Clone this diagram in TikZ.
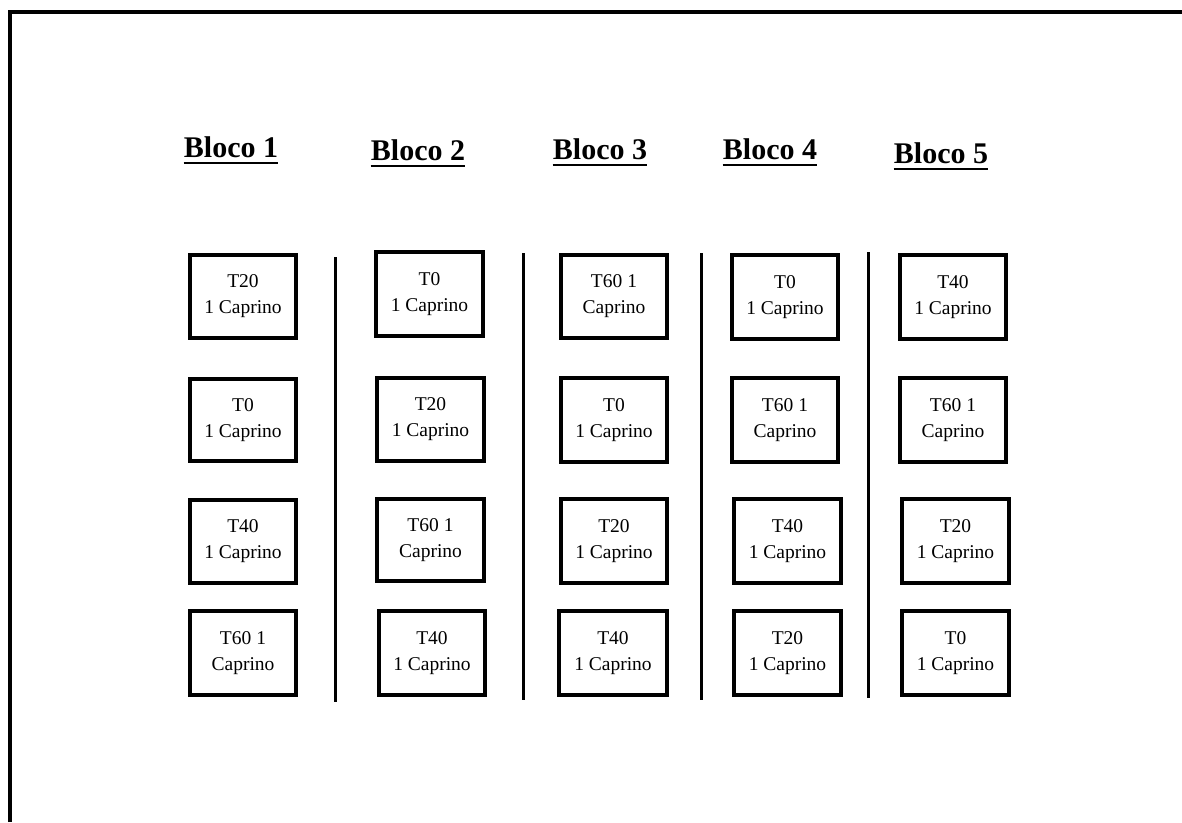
\documentclass[tikz,border=0pt]{standalone}
\usepackage{fontspec}
\setmainfont{Liberation Serif}
\begin{document}
\begin{tikzpicture}[x=1pt,y=-1pt,
  cellbox/.style={draw,line width=4pt,align=center,inner sep=0pt,
    font=\fontsize{19.5}{26}\selectfont},
  head/.style={font=\fontsize{30}{32}\bfseries\selectfont,inner sep=0pt,anchor=base},
  sepline/.style={line width=3pt},
  frameline/.style={line width=4pt}]
\useasboundingbox (0,0) rectangle (1182,822);
\fill[white] (0,0) rectangle (1182,822);
\draw[frameline] (10,822) -- (10,11.5) -- (1182,11.5);
% headings
\foreach \n/\x/\y in {1/231/157,2/418/160,3/600/159,4/770/159,5/941/163}{
  \node[head] (h\n) at (\x,\y) {Bloco \n};
  \draw[line width=2pt] ([yshift=-6]h\n.base west) -- ([yshift=-6]h\n.base east);
}
% cells: name / x1 / y1 / x2 / y2 / text
\foreach \nm/\xa/\ya/\xb/\yb/\t in {
  a1/188/253/298/340/{T20\\1 Caprino},
  a2/188/377/298/463/{T0\\1 Caprino},
  a3/188/498/298/585/{T40\\1 Caprino},
  a4/188/609/298/697/{T60 1\\Caprino},
  b1/374/250/485/338/{T0\\1 Caprino},
  b2/375/376/486/463/{T20\\1 Caprino},
  b3/375/497/486/583/{T60 1\\Caprino},
  b4/377/609/487/697/{T40\\1 Caprino},
  c1/559/253/669/340/{T60 1\\Caprino},
  c2/559/376/669/464/{T0\\1 Caprino},
  c3/559/497/669/585/{T20\\1 Caprino},
  c4/557/609/669/697/{T40\\1 Caprino},
  d1/730/253/840/341/{T0\\1 Caprino},
  d2/730/376/840/464/{T60 1\\Caprino},
  d3/732/497/843/585/{T40\\1 Caprino},
  d4/732/609/843/697/{T20\\1 Caprino},
  e1/898/253/1008/341/{T40\\1 Caprino},
  e2/898/376/1008/464/{T60 1\\Caprino},
  e3/900/497/1011/585/{T20\\1 Caprino},
  e4/900/609/1011/697/{T0\\1 Caprino}}{
  \pgfmathsetmacro{\cx}{(\xa+\xb)/2}
  \pgfmathsetmacro{\cy}{(\ya+\yb)/2}
  \pgfmathsetmacro{\w}{\xb-\xa-4}
  \pgfmathsetmacro{\h}{\yb-\ya-4}
  \node[cellbox,minimum width=\w pt,minimum height=\h pt] (\nm) at (\cx,\cy) {\t};
}
% separators
\draw[sepline] (335,257) -- (335,702);
\draw[sepline] (523,253) -- (523,700);
\draw[sepline] (701,253) -- (701,700);
\draw[sepline] (868,252) -- (868,698);
\end{tikzpicture}
\end{document}
